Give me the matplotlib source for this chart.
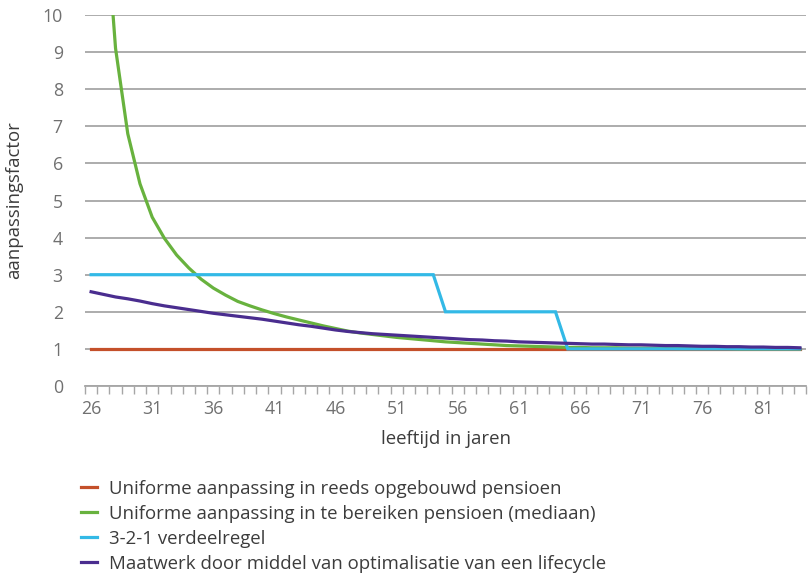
import matplotlib
matplotlib.use("Agg")
import matplotlib.pyplot as plt
import numpy as np

plt.rcParams['font.family'] = ['Open Sans', 'DejaVu Sans']

ages = list(range(26, 85))

reeds_opgebouwd = [1.0] * len(ages)

te_bereiken = [26.0, 13.5, 9.1, 6.8, 5.45, 4.55, 3.98, 3.53, 3.18, 2.88,
               2.64, 2.45, 2.28, 2.16, 2.05, 1.95, 1.86, 1.78, 1.70, 1.62,
               1.55, 1.48, 1.43, 1.39, 1.35, 1.31, 1.28, 1.25, 1.22, 1.19,
               1.17, 1.15, 1.13, 1.11, 1.09, 1.08, 1.07, 1.06, 1.05, 1.04,
               1.04, 1.03, 1.03, 1.03, 1.02, 1.02, 1.02, 1.02, 1.01, 1.01,
               1.01, 1.01, 1.01, 1.0, 1.0, 1.0, 1.0, 1.0, 1.0]

verdeelregel = [3.0] * 29 + [2.0] * 10 + [1.0] * 20

maatwerk = [2.54, 2.47, 2.40, 2.35, 2.29, 2.22, 2.16, 2.11, 2.06, 2.01,
            1.96, 1.92, 1.88, 1.84, 1.80, 1.75, 1.70, 1.65, 1.61, 1.56,
            1.51, 1.47, 1.44, 1.41, 1.39, 1.37, 1.35, 1.33, 1.31, 1.29,
            1.27, 1.25, 1.24, 1.22, 1.21, 1.19, 1.18, 1.17, 1.16, 1.15,
            1.14, 1.13, 1.13, 1.12, 1.11, 1.11, 1.10, 1.09, 1.09, 1.08,
            1.07, 1.07, 1.06, 1.06, 1.05, 1.05, 1.04, 1.04, 1.03]

series_labels = [
    "Uniforme aanpassing in reeds opgebouwd pensioen",
    "Uniforme aanpassing in te bereiken pensioen (mediaan)",
    "3-2-1 verdeelregel",
    "Maatwerk door middel van optimalisatie van een lifecycle",
]
series_colors = ["#C4502A", "#68B23E", "#33B9E6", "#4A2D8F"]

W, H = 811, 573
fig = plt.figure(figsize=(W / 100, H / 100), dpi=100)
ax = fig.add_axes([85 / W, (H - 386) / H, (806 - 85) / W, (386 - 15) / H])

x = np.arange(len(ages))
handles = []
for vals, lab, col in zip([reeds_opgebouwd, te_bereiken, verdeelregel, maatwerk],
                          series_labels, series_colors):
    h, = ax.plot(x, vals, color=col, lw=2.3, label=lab, solid_joinstyle='miter')
    handles.append(h)

ax.set_ylim(0, 10)
ax.set_xlim(-0.5, len(ages) - 0.5)

grid_col = "#A6A6A6"
tick_col = "#707070"
text_col = "#3C3C3C"

ax.set_yticks(range(0, 11))
ax.yaxis.grid(True, color=grid_col, lw=1.3)
ax.set_axisbelow(True)
ax.tick_params(axis='y', length=0, pad=16, labelsize=12.8, labelcolor=tick_col)

ax.set_xticks(np.arange(-0.5, len(ages), 1.0), minor=True)
ax.set_xticks(x[::5])
ax.set_xticklabels([str(a) for a in ages[::5]])
ax.tick_params(axis='x', which='major', length=0, pad=10, labelsize=12.8,
               labelcolor=tick_col)
ax.tick_params(axis='x', which='minor', length=6, width=1.0, color=grid_col,
               direction='out')

for s in ['top', 'right', 'left']:
    ax.spines[s].set_visible(False)
ax.spines['bottom'].set_color(grid_col)
ax.spines['bottom'].set_linewidth(1.3)

fig.text(14 / W, 1 - 200 / H, "aanpassingsfactor", rotation=90, ha='center',
         va='center', fontsize=13.4, color=text_col)
fig.text(446 / W, 1 - 439 / H, "leeftijd in jaren", ha='center', va='center',
         fontsize=13.4, color=text_col)

fig.legend(handles=handles, loc='upper left',
           bbox_to_anchor=(81 / W, 1 - 480 / H), frameon=False,
           fontsize=13.4, handlelength=0.86, handletextpad=0.65,
           labelspacing=0.37, labelcolor=text_col, borderaxespad=0,
           borderpad=0)

fig.savefig("out.png", dpi=100)
